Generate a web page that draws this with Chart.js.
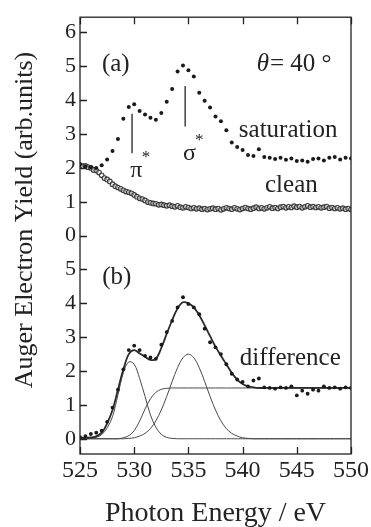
<!DOCTYPE html>
<html>
<head>
<meta charset="utf-8">
<title>O K-edge Auger electron yield</title>
<script src="https://cdn.jsdelivr.net/npm/chart.js@4.4.1/dist/chart.umd.min.js"></script>
<style>
  html, body { margin: 0; padding: 0; background: #fff; }
  canvas { display: block; }
</style>
</head>
<body>
<canvas id="yield" width="371" height="527"></canvas>
<script>
// photon energy grids (eV)
const energy = [525, 525.5, 526, 526.5, 527, 527.5, 528, 528.5, 529, 529.5, 530, 530.5, 531, 531.5, 532, 532.5,
  533, 533.5, 534, 534.5, 535, 535.5, 536, 536.5, 537, 537.5, 538, 538.5, 539, 539.5, 540, 540.5, 541, 541.5,
  542, 542.5, 543, 543.5, 544, 544.5, 545, 545.5, 546, 546.5, 547, 547.5, 548, 548.5, 549, 549.5, 550];
const energyFine = [525, 525.25, 525.5, 525.75, 526, 526.25, 526.5, 526.75, 527, 527.25, 527.5, 527.75,
  528, 528.25, 528.5, 528.75, 529, 529.25, 529.5, 529.75, 530, 530.25, 530.5, 530.75, 531, 531.25, 531.5, 531.75,
  532, 532.25, 532.5, 532.75, 533, 533.25, 533.5, 533.75, 534, 534.25, 534.5, 534.75, 535, 535.25, 535.5, 535.75,
  536, 536.25, 536.5, 536.75, 537, 537.25, 537.5, 537.75, 538, 538.25, 538.5, 538.75, 539, 539.25, 539.5, 539.75,
  540, 540.25, 540.5, 540.75, 541, 541.25, 541.5, 541.75, 542, 542.25, 542.5, 542.75, 543, 543.25, 543.5, 543.75,
  544, 544.25, 544.5, 544.75, 545, 545.25, 545.5, 545.75, 546, 546.25, 546.5, 546.75, 547, 547.25, 547.5, 547.75,
  548, 548.25, 548.5, 548.75, 549, 549.25, 549.5, 549.75, 550];

// (a) saturation coverage, on energy
const saturation = [2.10, 2.05, 2.02, 2.00, 2.08, 2.25, 2.50, 2.85, 3.45, 3.80, 3.88, 3.68, 3.58, 3.48, 3.42, 3.62,
  3.95, 4.33, 4.85, 5.02, 4.88, 4.70, 4.22, 3.98, 3.78, 3.52, 3.38, 3.11, 2.75, 2.62, 2.53, 2.38, 2.35, 2.55,
  2.32, 2.30, 2.26, 2.30, 2.24, 2.28, 2.20, 2.22, 2.18, 2.26, 2.28, 2.22, 2.30, 2.32, 2.25, 2.30, 2.28];

// (a) clean surface, on energyFine
const clean = [2.08, 2.05, 2.06, 2.02, 2.00, 1.94, 1.92, 1.86, 1.78, 1.70, 1.66, 1.60, 1.52, 1.46, 1.42, 1.38,
  1.34, 1.30, 1.28, 1.25, 1.20, 1.15, 1.10, 1.08, 1.04, 0.99, 0.97, 0.95, 0.94, 0.91, 0.92, 0.90, 0.88, 0.90,
  0.87, 0.85, 0.88, 0.84, 0.82, 0.85, 0.83, 0.80, 0.82, 0.79, 0.81, 0.78, 0.80, 0.77, 0.79, 0.81, 0.78, 0.80,
  0.76, 0.79, 0.82, 0.80, 0.78, 0.82, 0.79, 0.77, 0.80, 0.83, 0.80, 0.78, 0.81, 0.84, 0.80, 0.82, 0.79, 0.82,
  0.85, 0.81, 0.83, 0.80, 0.84, 0.86, 0.82, 0.85, 0.83, 0.87, 0.84, 0.86, 0.82, 0.85, 0.88, 0.84, 0.86, 0.83,
  0.85, 0.82, 0.84, 0.86, 0.81, 0.83, 0.80, 0.82, 0.79, 0.81, 0.78, 0.80, 0.77];

// (b) difference spectrum and its fit, on energy
const difference = [0.05, 0.08, 0.14, 0.18, 0.24, 0.50, 0.92, 1.45, 2.05, 2.62, 2.75, 2.62, 2.45, 2.40, 2.36, 2.78,
  3.15, 3.48, 3.88, 4.18, 3.98, 3.88, 3.68, 3.25, 2.85, 2.70, 2.50, 2.20, 1.92, 1.75, 1.68, 1.55, 1.72, 1.78,
  1.52, 1.50, 1.48, 1.52, 1.50, 1.55, 1.28, 1.42, 1.33, 1.45, 1.42, 1.55, 1.50, 1.52, 1.48, 1.52, 1.50];
const fit = [0.03, 0.03, 0.04, 0.07, 0.18, 0.45, 0.85, 1.45, 2.05, 2.50, 2.62, 2.52, 2.42, 2.33, 2.36, 2.68,
  3.10, 3.50, 3.85, 4.03, 4.00, 3.88, 3.65, 3.35, 3.03, 2.72, 2.45, 2.20, 1.95, 1.75, 1.62, 1.55, 1.52, 1.50,
  1.50, 1.50, 1.50, 1.50, 1.50, 1.50, 1.50, 1.50, 1.50, 1.50, 1.50, 1.50, 1.50, 1.50, 1.50, 1.50, 1.50];
const piPeak = [0, 0, 0.01, 0.04, 0.12, 0.32, 0.65, 1.30, 1.95, 2.27, 2.20, 1.78, 1.25, 0.70, 0.34, 0.13,
  0.04, 0.01, 0, 0, 0, 0, 0, 0, 0, 0, 0, 0, 0, 0, 0, 0, 0, 0,
  0, 0, 0, 0, 0, 0, 0, 0, 0, 0, 0, 0, 0, 0, 0, 0, 0];
const sigmaPeak = [0, 0, 0, 0, 0, 0, 0, 0, 0, 0.01, 0.03, 0.08, 0.16, 0.30, 0.53, 0.85,
  1.25, 1.69, 2.10, 2.39, 2.50, 2.39, 2.10, 1.69, 1.25, 0.85, 0.53, 0.30, 0.16, 0.08, 0.03, 0.01, 0, 0,
  0, 0, 0, 0, 0, 0, 0, 0, 0, 0, 0, 0, 0, 0, 0, 0, 0];
const edgeStep = [0, 0, 0, 0, 0, 0, 0, 0, 0.03, 0.09, 0.24, 0.52, 0.88, 1.18, 1.37, 1.46,
  1.49, 1.50, 1.50, 1.50, 1.50, 1.50, 1.50, 1.50, 1.50, 1.50, 1.50, 1.50, 1.50, 1.50, 1.50, 1.50, 1.50, 1.50,
  1.50, 1.50, 1.50, 1.50, 1.50, 1.50, 1.50, 1.50, 1.50, 1.50, 1.50, 1.50, 1.50, 1.50, 1.50, 1.50, 1.50];

// resonance markers in panel (a): energy, lower and upper end
const markerEnergy = [529.8, 534.7];
const markerLow = [2.43, 3.22];
const markerHigh = [3.60, 4.42];

// one shared axis: panel (b) 0..5, panel (a) shifted up by six units
const PANEL_A_SHIFT = 6;
const yTickValues = [0, 1, 2, 3, 4, 5, 6, 7, 8, 9, 10, 11, 12];
const yTickLabels = ['0', '1', '2', '3', '4', '5', '0', '1', '2', '3', '4', '5', '6'];
const xTickValues = [525, 530, 535, 540, 545, 550];

const ink = '#232323';
const serif = "'Liberation Serif', 'Times New Roman', serif";
Chart.defaults.font.family = serif;
Chart.defaults.color = ink;

function pts(xs, ys, shift) {
  return xs.map(function (e, i) { return { x: e, y: ys[i] + (shift || 0) }; });
}

function curve(ys, width, color) {
  return {
    data: pts(energy, ys),
    showLine: true,
    borderColor: color,
    borderWidth: width,
    pointRadius: 0,
    tension: 0.35,
    fill: false
  };
}

var datasets = [
  {
    data: pts(energy, saturation, PANEL_A_SHIFT),
    pointStyle: 'circle',
    pointRadius: 2,
    backgroundColor: '#1a1a1a',
    borderWidth: 0
  },
  {
    data: pts(energyFine, clean, PANEL_A_SHIFT),
    pointStyle: 'circle',
    pointRadius: 2.3,
    backgroundColor: 'rgba(255,255,255,0.5)',
    borderColor: '#3a3a3a',
    borderWidth: 1.1
  },
  {
    data: pts(energy, difference),
    pointStyle: 'circle',
    pointRadius: 1.9,
    backgroundColor: '#1a1a1a',
    borderWidth: 0
  },
  curve(fit, 1.8, '#2a2a2a'),
  curve(piPeak, 1, '#4a4a4a'),
  curve(sigmaPeak, 1, '#4a4a4a'),
  curve(edgeStep, 1, '#4a4a4a')
];

// vertical bars under pi* and sigma*
markerEnergy.forEach(function (e, i) {
  datasets.push({
    data: [{ x: e, y: markerLow[i] + PANEL_A_SHIFT }, { x: e, y: markerHigh[i] + PANEL_A_SHIFT }],
    showLine: true,
    borderColor: ink,
    borderWidth: 1.3,
    pointRadius: 0
  });
});

// frame with inward ticks, the y title and the in-plot labels
const frame = {
  id: 'frame',
  afterDraw: function (chart) {
    const ctx = chart.ctx, a = chart.chartArea;
    const x = chart.scales.x, y = chart.scales.y;
    ctx.save();
    ctx.strokeStyle = ink;
    ctx.lineWidth = 1.3;
    ctx.strokeRect(a.left, a.top, a.right - a.left, a.bottom - a.top);
    ctx.beginPath();
    yTickValues.forEach(function (v) {
      const py = Math.round(y.getPixelForValue(v)) + 0.5;
      ctx.moveTo(a.left, py);
      ctx.lineTo(a.left + 7, py);
    });
    xTickValues.forEach(function (v) {
      const px = Math.round(x.getPixelForValue(v)) + 0.5;
      ctx.moveTo(px, a.bottom);
      ctx.lineTo(px, a.bottom - 7);
      ctx.moveTo(px, a.top);
      ctx.lineTo(px, a.top + 7);
    });
    ctx.stroke();

    ctx.fillStyle = ink;
    ctx.textBaseline = 'middle';

    // y title sits a little above the middle of the axis
    ctx.save();
    ctx.translate(25, 220);
    ctx.rotate(-Math.PI / 2);
    ctx.font = '26px ' + serif;
    ctx.textAlign = 'center';
    ctx.fillText('Auger Electron Yield (arb.units)', 0, 0);
    ctx.restore();

    function put(text, e, v, size, align, style) {
      ctx.font = (style ? style + ' ' : '') + size + 'px ' + serif;
      ctx.textAlign = align || 'center';
      ctx.fillText(text, x.getPixelForValue(e), y.getPixelForValue(v));
    }
    put('(a)', 528.3, 11.06, 25);
    put('saturation', 544.2, 9.12, 25);
    put('clean', 544.5, 7.47, 25);
    put('π', 530.2, 7.93, 24);
    put('*', 531.1, 8.3, 17);
    put('σ', 535.1, 8.43, 24);
    put('*', 536.0, 8.8, 17);
    put('(b)', 528.4, 4.75, 25);
    put('difference', 544.4, 2.38, 25);

    // θ = 40 °
    ctx.font = 'italic 25px ' + serif;
    ctx.textAlign = 'left';
    const tx = x.getPixelForValue(541.3), ty = y.getPixelForValue(11.06);
    ctx.fillText('θ', tx, ty);
    const w = ctx.measureText('θ').width;
    ctx.font = '25px ' + serif;
    ctx.fillText('= 40 °', tx + w + 1, ty);
    ctx.restore();
  }
};

new Chart(document.getElementById('yield').getContext('2d'), {
  type: 'scatter',
  data: { datasets: datasets },
  options: {
    responsive: false,
    animation: false,
    layout: { padding: { top: 13, right: 20, bottom: 0, left: 0 } },
    plugins: { legend: { display: false }, tooltip: { enabled: false } },
    scales: {
      x: {
        type: 'linear',
        min: 525,
        max: 550,
        grid: { display: false, drawTicks: false },
        border: { display: false },
        afterBuildTicks: function (s) { s.ticks = xTickValues.map(function (v) { return { value: v }; }); },
        ticks: { font: { size: 24 }, padding: 2, maxRotation: 0, autoSkip: false },
        title: { display: true, text: 'Photon Energy / eV', font: { size: 28 }, padding: { top: 0, bottom: -3 } },
        afterFit: function (s) { s.height = 73; }
      },
      y: {
        type: 'linear',
        min: -0.45,
        max: 12.45,
        grid: { display: false, drawTicks: false },
        border: { display: false },
        afterBuildTicks: function (s) { s.ticks = yTickValues.map(function (v) { return { value: v }; }); },
        ticks: {
          font: { size: 22 },
          padding: 4,
          autoSkip: false,
          callback: function (v, i) { return yTickLabels[i]; }
        },
        afterFit: function (s) { s.width = 80; }
      }
    }
  },
  plugins: [frame]
});
</script>
</body>
</html>
